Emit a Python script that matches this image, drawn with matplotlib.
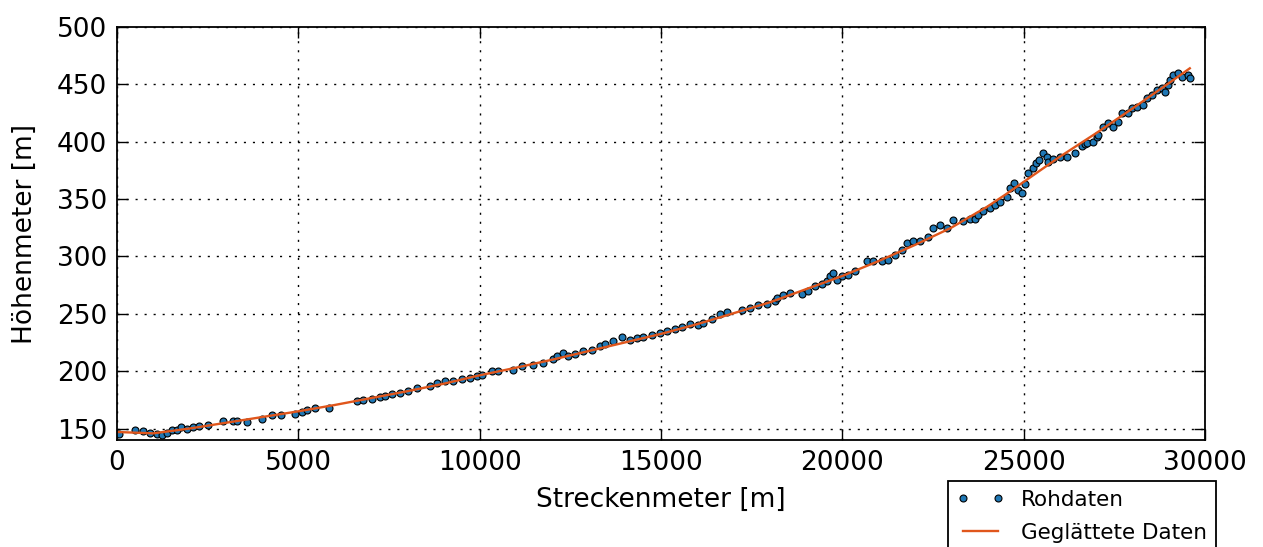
import matplotlib
matplotlib.use("Agg")
import matplotlib.pyplot as plt

raw_x = [60, 500, 725, 910, 1095, 1230, 1370, 1505, 1645, 1765, 1920, 2105, 2270, 2520,
         2915, 3190, 3320, 3575, 3990, 4265, 4515, 4910, 5090, 5250, 5460, 5855,
         6609, 6792, 7023, 7252, 7390, 7575, 7803, 8032, 8263, 8630, 8815, 9044, 9273,
         9505, 9733, 9918, 10056, 10332, 10513, 10927, 11158, 11478, 11754, 12030,
         12124, 12306, 12444, 12629, 12857, 13089, 13318, 13456, 13685, 13917, 14145,
         14330, 14512, 14743, 14972, 15157, 15386, 15570, 15799, 16028, 16166, 16398,
         16627, 16811, 17225, 17454, 17683, 17914, 18143,
         18190, 18373, 18557, 18880, 19062, 19246, 19431, 19569, 19660, 19751, 19844,
         19982, 20164, 20349, 20671, 20854, 21085, 21268, 21452, 21637, 21775, 21957,
         22141, 22370, 22508, 22693, 22876, 23060, 23336,
         23520, 23658, 23750, 23887, 24071, 24209, 24347, 24532, 24623, 24742, 24852,
         24944, 25036, 25128, 25249, 25340, 25432, 25543, 25653, 25681, 25818, 26003,
         26187, 26416, 26599, 26691, 26737, 26921, 27013, 27058, 27196, 27334, 27472,
         27610, 27702, 27886, 27978, 28116, 28300, 28392, 28530, 28668, 28806, 28897,
         28989, 29036, 29125, 29264, 29356, 29540, 29583]
raw_y = [145.4, 148.3, 147.7, 146.5, 145.4, 144.8, 146.3, 148.3, 149.1, 151.1, 150.0,
         151.1, 152.6, 152.9, 156.4, 156.4, 156.4, 155.8, 158.7, 161.6, 162.2, 163.1,
         164.5, 166.3, 168.0, 168.0,
         173.8, 175.3, 175.9, 177.3, 178.1, 180.2, 181.1, 182.5, 185.4, 186.8, 189.8,
         191.2, 191.2, 193.3, 194.2, 195.6, 197.0, 199.9, 199.9, 200.8, 204.2, 205.7,
         207.2, 210.7,
         213.0, 215.9, 213.6, 215.0, 217.9, 218.8, 221.7, 224.0, 226.0, 229.8, 227.5,
         229.0, 229.8, 231.2, 233.3, 235.3, 236.8, 238.2, 241.1, 240.5, 242.0, 245.8,
         249.9, 251.6, 253.6, 255.1, 258.0, 258.6, 260.8,
         263.8, 266.1, 268.2, 267.3, 270.2, 273.9, 276.0, 278.2, 282.6, 285.6, 279.7,
         282.6, 284.1, 287.0, 295.7, 296.3, 295.7, 297.1, 300.9, 305.8, 311.7, 313.1,
         313.7, 316.6, 324.7, 327.6, 324.7, 332.0, 330.5,
         332.6, 332.6, 336.3, 339.2, 342.1, 345.0, 347.9, 351.7, 359.6, 363.9, 358.1,
         355.2, 363.3, 372.6, 377.0, 381.3, 384.2, 390.0, 387.1, 382.7, 384.8, 386.6,
         387.1, 390.0, 396.7, 398.1, 398.8, 399.6, 404.5, 406.0, 413.2, 416.2, 413.2,
         417.6, 424.9, 424.9, 429.2, 430.6, 432.1, 437.9, 440.8, 445.2, 446.6, 443.1,
         449.5, 453.9, 458.2, 459.7, 456.7, 458.2, 455.9]

# Geglaettete Daten
smooth_x = [0, 1000, 2000, 3000, 4000, 5000, 6000, 7000, 8000, 9000, 10000, 11000,
            12000, 13000, 14000, 15000, 16000, 17000, 18000, 19000, 20000, 21000,
            22000, 23000, 24000, 24500, 25000, 25500, 26000, 27000, 28000, 29000, 29580]
smooth_y = [147.0, 145.8, 150.0, 155.0, 160.0, 165.0, 170.5, 176.5, 182.5, 189.0,
            196.4, 203.0, 210.0, 217.5, 225.0, 232.5, 241.0, 250.5, 260.0, 271.5,
            283.0, 296.0, 310.0, 325.0, 343.5, 354.0, 365.0, 376.0, 387.0, 407.5,
            429.0, 451.0, 464.0]

xticks = [0, 5000, 10000, 15000, 20000, 25000, 30000]
yticks = [150, 200, 250, 300, 350, 400, 450, 500]

fig = plt.figure(figsize=(12.63, 5.47), dpi=100)
ax = fig.add_axes([0.0926, 0.1956, 0.8615, 0.755])

ax.plot(raw_x, raw_y, linestyle="none", marker="o", markersize=5,
        markerfacecolor="#1f77b4", markeredgecolor="black", markeredgewidth=0.8,
        label="Rohdaten")
ax.plot(smooth_x, smooth_y, color="#e0561c", linewidth=1.7, label="Geglättete Daten")

ax.set_xlim(0, 30000)
ax.set_ylim(140, 500)
ax.set_xticks(xticks)
ax.set_yticks(yticks)
ax.tick_params(direction="in", length=8, width=1, top=True, right=True, labelsize=19, pad=7)
for s in ax.spines.values():
    s.set_linewidth(1.3)
ax.grid(True, color="black", linestyle=(0, (1.5, 5)), linewidth=1)

ax.set_xlabel("Streckenmeter [m]", fontsize=19, labelpad=8)
ax.set_ylabel("Höhenmeter [m]", fontsize=19, labelpad=14)

leg = fig.legend(loc="upper left", bbox_to_anchor=(0.7506, 0.1207), numpoints=2,
                 fontsize=15.5, fancybox=False, framealpha=1, borderaxespad=0,
                 handlelength=2.2, labelspacing=0.6)
leg.get_frame().set_edgecolor("black")
leg.get_frame().set_linewidth(1.3)

fig.savefig("out.png", dpi=100)
